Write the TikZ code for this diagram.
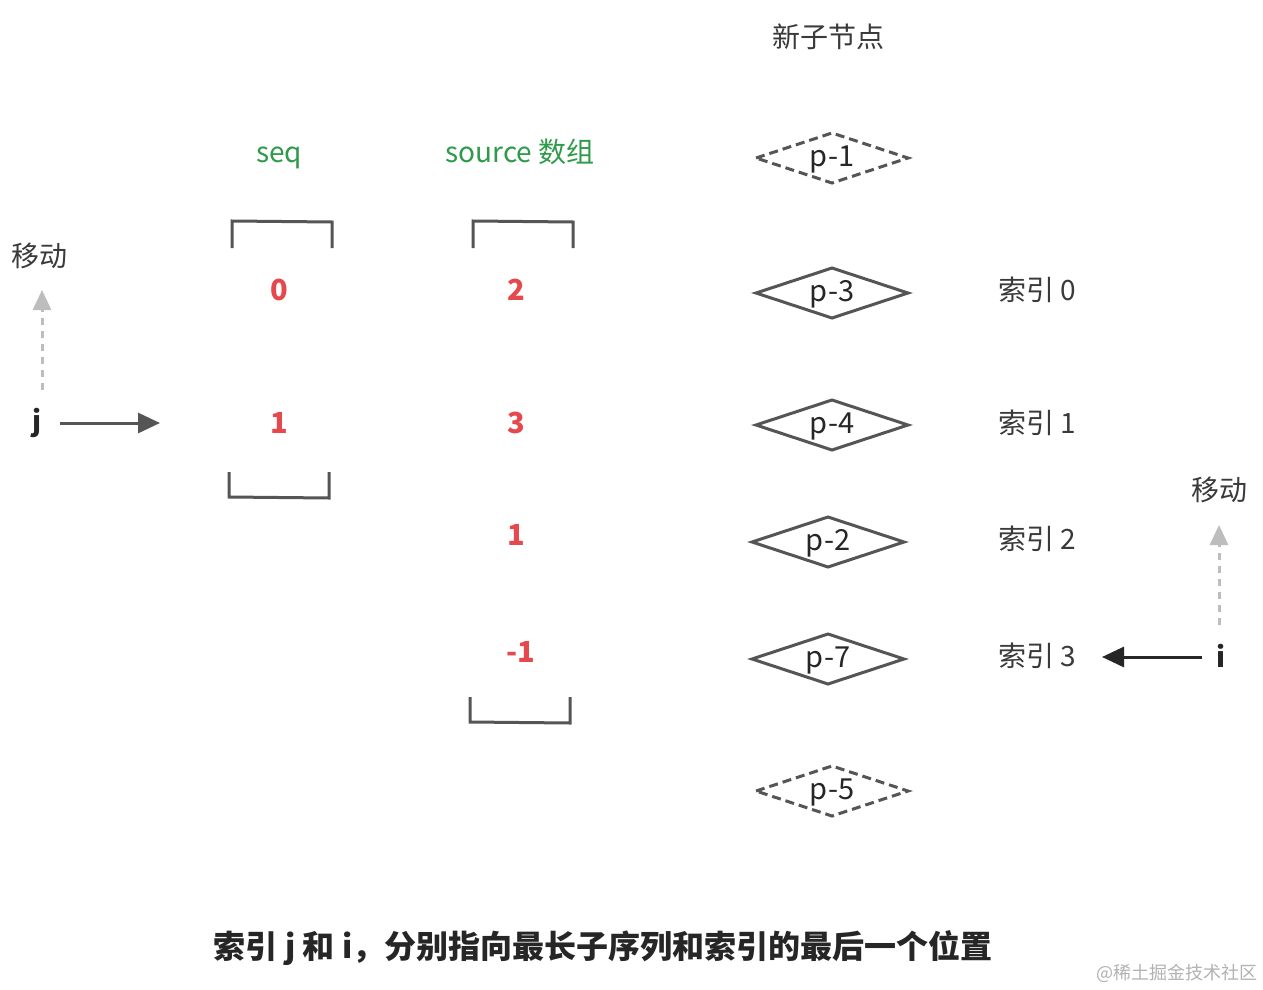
\documentclass[tikz,border=0pt]{standalone}
\usepackage{fontspec}
\setmainfont{Noto Sans CJK SC}
\usetikzlibrary{arrows.meta}
\definecolor{txt}{HTML}{3A3A3A}
\definecolor{grn}{HTML}{2E9A4A}
\definecolor{rd}{HTML}{E5484D}
\definecolor{ln}{HTML}{555555}
\definecolor{lg}{HTML}{BDBDBD}
\newcommand\mydia[2]{%
  \draw[#2] ([xshift=-76pt]#1.center) -- ([yshift=25pt]#1.center) -- ([xshift=76pt]#1.center) -- ([yshift=-25pt]#1.center) -- cycle;}
\begin{document}
\begin{tikzpicture}[x=1pt,y=-1pt,
  lbl/.style={text=txt,font=\fontsize{28}{32}\selectfont,inner sep=0},
  pl/.style={text=black!85,font=\fontsize{29}{32}\selectfont,inner sep=0,text height=21pt,text depth=5pt},
  gl/.style={text=grn,font=\fontsize{28}{32}\selectfont,inner sep=0},
  num/.style={text=rd,font=\fontsize{29}{32}\selectfont\bfseries,inner sep=0},
  brk/.style={draw=ln,line width=3pt},
  dsh/.style={draw=ln,line width=3pt,dash pattern=on 9pt off 5pt,line join=miter},
  sol/.style={draw=ln,line width=3pt,line join=miter},
  mv/.style={draw=lg,line width=3pt,dash pattern=on 7pt off 6pt,-{Triangle[width=18pt,length=20pt]}},
  ptr/.style={line width=3pt,-{Triangle[width=20pt,length=22pt]}}]
\useasboundingbox[fill=white] (0,0) rectangle (1263,990);
% headers
\node[lbl] (hd) at (828,37) {新子节点};
\node[gl] (seq) at (279,158) {seq};
\node[gl] (src) at (520,152) {source 数组};
% brackets
\coordinate (s1a) at (232,248); \coordinate (s1b) at (332,248);
\draw[brk] (s1a) -- (232,221) -- (332,222) -- (s1b);
\coordinate (r1a) at (473,248); \coordinate (r1b) at (573,248);
\draw[brk] (r1a) -- (473,221) -- (573,222) -- (r1b);
\coordinate (s2a) at (229,472); \coordinate (s2b) at (329,472);
\draw[brk] (s2a) -- (229,497) -- (329,498) -- (s2b);
\coordinate (r2a) at (470,697); \coordinate (r2b) at (570,697);
\draw[brk] (r2a) -- (470,722) -- (570,723) -- (r2b);
% numbers
\node[num] (q0) at (279,290) {0};
\node[num] (q1) at (279,423) {1};
\node[num] (a0) at (516,290) {2};
\node[num] (a1) at (516,423) {3};
\node[num] (a2) at (516,535) {1};
\node[num] (a3) at (521,652) {-1};
% diamonds
\node[pl] (p1) at (832,158) {p-1};
\node[pl] (p3) at (832,293) {p-3};
\node[pl] (p4) at (832,425) {p-4};
\node[pl] (p2) at (828,542) {p-2};
\node[pl] (p7) at (828,659) {p-7};
\node[pl] (p5) at (832,791) {p-5};
\mydia{p1}{dsh}
\mydia{p3}{sol}
\mydia{p4}{sol}
\mydia{p2}{sol}
\mydia{p7}{sol}
\mydia{p5}{dsh}
% index labels
\node[lbl] (i0) at (1037,290) {索引 0};
\node[lbl] (i1) at (1037,423) {索引 1};
\node[lbl] (i2) at (1037,539) {索引 2};
\node[lbl] (i3) at (1037,656) {索引 3};
% left pointer
\node[lbl,text=txt] (mvl) at (40,256) {移动};
\node[lbl,text=black!85,font=\fontsize{28}{32}\selectfont\bfseries] (j) at (37,423) {j};
\coordinate (jt) at (42,390);
\coordinate (jh) at (42,290);
\draw[mv] (jt) -- (jh);
\coordinate (ja) at (60,423);
\coordinate (jb) at (160,423);
\draw[ptr,draw=ln,fill=ln] (ja) -- (jb);
% right pointer
\node[lbl,text=txt] (mvr) at (1219,490) {移动};
\node[lbl,text=black!85,font=\fontsize{28}{32}\selectfont\bfseries] (i) at (1221,656) {i};
\coordinate (it) at (1219,625);
\coordinate (ih) at (1219,525);
\draw[mv] (it) -- (ih);
\coordinate (ia) at (1202,657);
\coordinate (ib) at (1102,657);
\draw[ptr,draw=black!85,fill=black!85] (ia) -- (ib);
% caption
\node[lbl,text=black!85,font=\fontsize{32}{36}\selectfont\bfseries] (cap) at (603,948) {索引 j 和 i，分别指向最长子序列和索引的最后一个位置};
\node[inner sep=0,text=black!30,font=\fontsize{18}{20}\selectfont] (wm) at (1177,973) {@稀土掘金技术社区};
\end{tikzpicture}
\end{document}
